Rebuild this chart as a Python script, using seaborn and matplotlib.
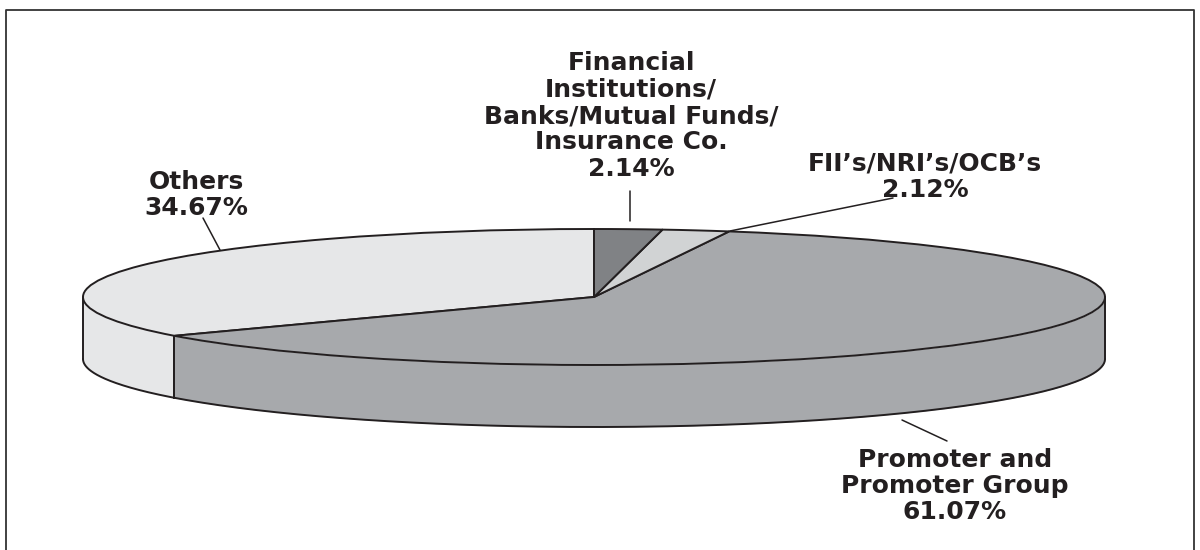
import numpy as np
import seaborn as sns
import matplotlib.pyplot as plt

# chart data
categories = ["Others", "Promoter and\nPromoter Group", "FII’s/NRI’s/OCB’s",
              "Financial\nInstitutions/\nBanks/Mutual Funds/\nInsurance Co."]
shares = [34.67, 61.07, 2.12, 2.14]
share_labels = ["34.67%", "61.07%", "2.12%", "2.14%"]
slice_colors = ["#E6E7E8", "#A7A9AC", "#D1D3D4", "#808285"]

# pixel geometry of the flattened pie
WIDTH, HEIGHT = 1200, 550
CX, CY = 594, 297
RX, RY = 511, 68
DEPTH = 62 / RY
EDGE = "#231F20"

sns.set_theme(style="white")
plt.rcParams["font.family"] = ["DejaVu Sans"]

fig = plt.figure(figsize=(WIDTH / 100, HEIGHT / 100), dpi=100)
ax = fig.add_axes([0, 0, 1, 1])

# side walls go under the top face
start = 90.0
for share, color in zip(shares, slice_colors):
    end = start + share * 3.6
    lo, hi = max(start, 180), min(end, 360)
    if lo < hi:
        theta = np.radians(np.linspace(lo, hi, 200))
        x = np.cos(theta)
        y = np.sin(theta)
        ax.fill_between(x, y, y - DEPTH, color=color, lw=0, zorder=1)
        ax.plot(x, y - DEPTH, color=EDGE, lw=1.4, zorder=2)
        for edge_x, edge_y in ((x[0], y[0]), (x[-1], y[-1])):
            ax.plot([edge_x, edge_x], [edge_y, edge_y - DEPTH], color=EDGE, lw=1.4, zorder=2)
    start = end

wedges, _ = ax.pie(shares, colors=slice_colors, startangle=90, counterclock=True,
                   wedgeprops={"edgecolor": EDGE, "linewidth": 1.4, "zorder": 3})
ax.set_aspect("auto")
ax.set_xlim(-CX / RX, (WIDTH - CX) / RX)
ax.set_ylim((CY - HEIGHT) / RY, CY / RY)
ax.axis("off")

# labels, leaders and frame are placed in pixels on an overlay
over = fig.add_axes([0, 0, 1, 1])
over.set_xlim(0, WIDTH)
over.set_ylim(HEIGHT, 0)
over.axis("off")
over.patch.set_alpha(0)

label_pos = [(196, 195), (955, 486), (925, 177), (631, 116)]
for name, pct, (px, py) in zip(categories, share_labels, label_pos):
    over.text(px, py, f"{name}\n{pct}", ha="center", va="center", fontsize=18,
              fontweight="bold", color=EDGE, linespacing=1.13)

leaders = [((203, 218), (220, 250)), ((902, 420), (947, 441)),
           ((730, 231), (893, 198)), ((630, 191), (630, 221))]
for (x0, y0), (x1, y1) in leaders:
    over.plot([x0, x1], [y0, y1], color=EDGE, lw=1.1)

over.plot([5.5, 5.5, 1194, 1194], [550, 10, 10, 550], color="#333333", lw=1.3)

plt.savefig("out.png", dpi=100)
plt.close()
